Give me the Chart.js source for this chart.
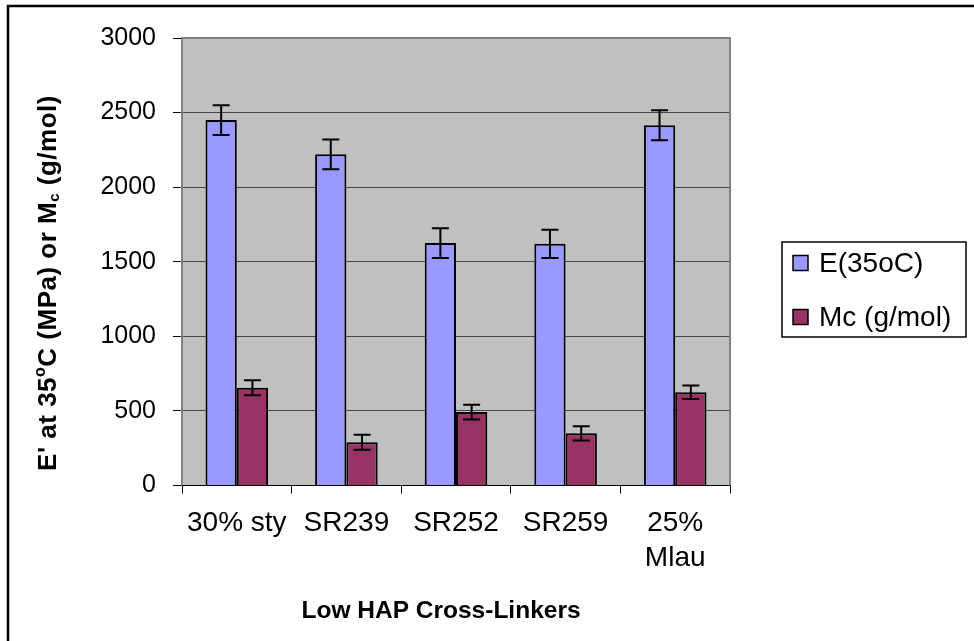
<!DOCTYPE html>
<html>
<head>
<meta charset="utf-8">
<script src="https://cdn.jsdelivr.net/npm/chart.js@4"></script>
<style>
  html, body { margin: 0; padding: 0; background: #fff; }
  #wrap { width: 974px; height: 641px; }
</style>
</head>
<body>
<div id="wrap"><canvas id="chart" width="974" height="641"></canvas></div>
<script>
// Data
const categories = ['30% sty', 'SR239', 'SR252', 'SR259', ['25%', 'Mlau']];
const modulus    = [2450, 2220, 1625, 1620, 2415];   // E(35oC), MPa
const modulusErr = [100, 100, 100, 95, 100];
const mcValues   = [655, 290, 492, 350, 625];        // Mc, g/mol
const mcErr      = [50, 50, 50, 48, 45];
const yTicks     = [0, 500, 1000, 1500, 2000, 2500, 3000];

const FONT = "Arial, 'Liberation Sans', sans-serif";
const COLORS = {
  e:    '#9999ff',
  mc:   '#993366',
  plot: '#c0c0c0',
  grid: '#454545',
  edge: '#808080',
};

// Plot background, plot edge and the outer frame
const plotBg = {
  id: 'plotBg',
  beforeDraw(chart) {
    const { ctx, chartArea: a } = chart;
    ctx.save();
    ctx.fillStyle = COLORS.plot;
    ctx.fillRect(a.left, a.top, a.right - a.left, a.bottom - a.top);
    ctx.strokeStyle = '#000';
    ctx.lineWidth = 2.5;
    ctx.beginPath();
    ctx.moveTo(8, 641);
    ctx.lineTo(8, 6);
    ctx.lineTo(974, 6);
    ctx.stroke();
    ctx.restore();
  },
  beforeDatasetsDraw(chart) {
    const { ctx, chartArea: a } = chart;
    ctx.save();
    ctx.strokeStyle = COLORS.edge;
    ctx.lineWidth = 2;
    ctx.beginPath();
    ctx.moveTo(a.left, a.bottom);
    ctx.lineTo(a.left, a.top);
    ctx.lineTo(a.right, a.top);
    ctx.lineTo(a.right, a.bottom);
    ctx.stroke();
    ctx.restore();
  }
};

// Error bars from the err arrays
const errorBars = {
  id: 'errorBars',
  afterDatasetsDraw(chart) {
    const { ctx } = chart;
    const y = chart.scales.y;
    const errs = [modulusErr, mcErr];
    ctx.save();
    ctx.strokeStyle = '#000';
    ctx.lineWidth = 2;
    chart.data.datasets.forEach((ds, i) => {
      chart.getDatasetMeta(i).data.forEach((bar, j) => {
        const v = ds.data[j], e = errs[i][j];
        const top = y.getPixelForValue(v + e);
        const bot = y.getPixelForValue(v - e);
        const x = bar.x, cap = 8.5;
        ctx.beginPath();
        ctx.moveTo(x, top); ctx.lineTo(x, bot);
        ctx.moveTo(x - cap, top); ctx.lineTo(x + cap, top);
        ctx.moveTo(x - cap, bot); ctx.lineTo(x + cap, bot);
        ctx.stroke();
      });
    });
    ctx.restore();
  }
};

// Axis titles (y one with superscript o and subscript c) and the boxed legend
const extras = {
  id: 'extras',
  afterDraw(chart) {
    const { ctx } = chart;
    ctx.save();
    ctx.fillStyle = '#000';
    // rotated y-axis title
    const parts = [
      { t: "E' at 35", size: 26, dy: 0 },
      { t: 'o', size: 16, dy: -11 },
      { t: 'C (MPa) or M', size: 26, dy: 0 },
      { t: 'c', size: 15, dy: 3 },
      { t: ' (g/mol)', size: 26, dy: 0 },
    ];
    ctx.letterSpacing = '0.5px';
    let total = 0;
    parts.forEach(p => {
      ctx.font = `bold ${p.size}px ${FONT}`;
      p.w = ctx.measureText(p.t).width;
      total += p.w;
    });
    ctx.translate(56, 283);
    ctx.rotate(-Math.PI / 2);
    ctx.textBaseline = 'alphabetic';
    let x = -total / 2;
    parts.forEach(p => {
      ctx.font = `bold ${p.size}px ${FONT}`;
      ctx.fillText(p.t, x, p.dy);
      x += p.w;
    });
    ctx.setTransform(1, 0, 0, 1, 0, 0);
    ctx.letterSpacing = '0px';

    // x-axis title
    ctx.font = `bold 24.5px ${FONT}`;
    ctx.textAlign = 'center';
    ctx.textBaseline = 'middle';
    ctx.fillText('Low HAP Cross-Linkers', 441, 611);
    ctx.textAlign = 'left';

    // legend
    ctx.strokeStyle = '#000';
    ctx.lineWidth = 1.5;
    ctx.strokeRect(782, 242, 184, 95);
    ctx.font = `28px ${FONT}`;
    chart.data.datasets.forEach((ds, i) => {
      const cy = 263 + i * 54;
      ctx.fillStyle = ds.backgroundColor;
      ctx.fillRect(793, cy - 7.5, 15, 15);
      ctx.strokeRect(793, cy - 7.5, 15, 15);
      ctx.fillStyle = '#000';
      ctx.fillText(ds.label, 819, cy + 1);
    });
    ctx.restore();
  }
};

new Chart(document.getElementById('chart'), {
  type: 'bar',
  data: {
    labels: categories,
    datasets: [
      {
        label: 'E(35oC)',
        data: modulus,
        backgroundColor: COLORS.e,
        borderColor: '#000',
        borderWidth: 2,
      },
      {
        label: 'Mc (g/mol)',
        data: mcValues,
        backgroundColor: COLORS.mc,
        borderColor: '#000',
        borderWidth: 2,
      }
    ]
  },
  options: {
    responsive: false,
    animation: false,
    devicePixelRatio: 1,
    categoryPercentage: 0.571,
    barPercentage: 1.0,
    layout: { padding: { top: 38, right: 244, bottom: 0, left: 0 } },
    plugins: {
      legend: { display: false },
      tooltip: { enabled: false },
    },
    scales: {
      x: {
        grid: { drawOnChartArea: false, drawTicks: true, tickLength: 8, tickColor: '#000', offset: true },
        border: { color: '#000', width: 1 },
        ticks: {
          color: '#000',
          font: { family: FONT, size: 28, lineHeight: 1.25 },
          padding: 12,
          maxRotation: 0,
          autoSkip: false,
        },
        afterFit: (s) => { s.height = 155.5; },
      },
      y: {
        min: 0,
        max: 3000,
        afterBuildTicks: (s) => { s.ticks = yTicks.map(v => ({ value: v })); },
        grid: {
          color: (c) => c.tick && c.tick.value === 3000 ? 'rgba(0,0,0,0)' : COLORS.grid,
          lineWidth: 1,
          tickLength: 9,
          tickColor: '#000',
        },
        border: { display: false },
        ticks: {
          color: '#000',
          font: { family: FONT, size: 25 },
          padding: 17,
          callback: (v) => String(v),
        },
        afterFit: (s) => { s.width = 182; },
      }
    }
  },
  plugins: [plotBg, errorBars, extras]
});
</script>
</body>
</html>
